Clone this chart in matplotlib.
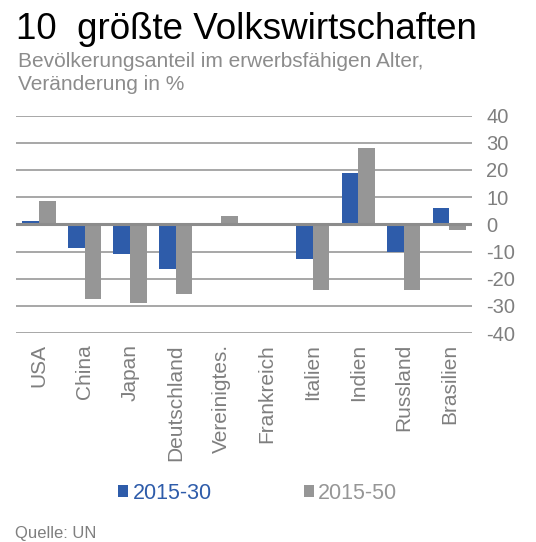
import matplotlib.pyplot as plt
import numpy as np

plt.rcParams['font.family'] = ['Liberation Sans', 'DejaVu Sans']

countries = ['USA', 'China', 'Japan', 'Deutschland', 'Vereinigtes.', 'Frankreich',
             'Italien', 'Indien', 'Russland', 'Brasilien']
v_2030 = [1.3, -8.7, -11, -16.5, 0.0, 0.0, -12.7, 19, -10, 6]
v_2050 = [8.7, -27.5, -29, -25.5, 3.0, 0.0, -24, 28, -24, -2]
yticks = [40, 30, 20, 10, 0, -10, -20, -30, -40]

blue = '#2E5CAA'
grey = '#969696'
txt_grey = '#7F7F7F'

fig = plt.figure(figsize=(5.36, 5.42), dpi=100)
ax = fig.add_axes([0.030, 0.3856, 0.851, 0.401])

x = np.arange(len(countries))
w = 0.365
ax.bar(x - w/2, v_2030, w, color=blue, zorder=3, label='2015-30')
ax.bar(x + w/2, v_2050, w, color=grey, zorder=3, label='2015-50')

for t in yticks:
    if t == 0:
        ax.axhline(t, color='#8C8C8C', lw=2.2, zorder=4)
    else:
        ax.axhline(t, color='#A0A0A0', lw=1.3, zorder=1)

ax.set_xlim(-0.5, len(countries) - 0.5)
ax.set_ylim(-40, 40)
ax.yaxis.tick_right()
ax.set_yticks(yticks)
ax.set_yticklabels([str(t) for t in yticks], fontsize=14.5, color=txt_grey)
ax.tick_params(axis='y', length=0, pad=10)
ax.set_xticks(x)
ax.set_xticklabels(countries, rotation=90, fontsize=15, color=txt_grey, va='top')
ax.tick_params(axis='x', length=0, pad=8)
for s in ax.spines.values():
    s.set_visible(False)

fig.text(0.030, 0.928, '10  größte Volkswirtschaften', fontsize=26.5, color='black')
fig.text(0.033, 0.876, 'Bevölkerungsanteil im erwerbsfähigen Alter,', fontsize=15, color='#8C8C8C')
fig.text(0.033, 0.834, 'Veränderung in %', fontsize=15, color='#8C8C8C')

leg = fig.legend(loc='center', bbox_to_anchor=(0.481, 0.090), ncol=2, frameon=False,
                 fontsize=15.5, handlelength=0.45, handleheight=0.45, handletextpad=0.2,
                 columnspacing=4.3)
for t, c in zip(leg.get_texts(), [blue, grey]):
    t.set_color(c)

fig.text(0.028, 0.008, 'Quelle: UN', fontsize=12, color=txt_grey)

plt.savefig('out.png', dpi=100)
